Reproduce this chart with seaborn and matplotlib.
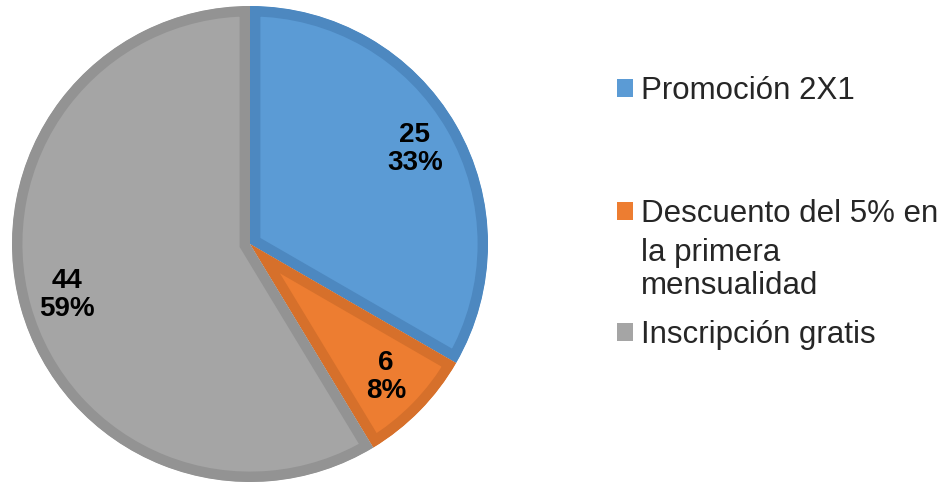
import matplotlib
matplotlib.use("Agg")
import matplotlib.pyplot as plt
import seaborn as sns
from matplotlib.patches import Patch

categories = ["Promoción 2X1", "Descuento del 5% en la primera mensualidad", "Inscripción gratis"]
legend_first = ["Promoción 2X1", "Descuento del 5% en", "Inscripción gratis"]
legend_extra = ["", "la primera\nmensualidad", ""]
values = [25, 6, 44]
fill_colors = ["#5B9BD5", "#ED7D31", "#A5A5A5"]
edge_colors = ["#4D88C0", "#D6702B", "#939393"]

sns.set_theme(style="white")
plt.rcParams["font.family"] = ["Liberation Sans", "DejaVu Sans"]

W, H = 949, 483
fig = plt.figure(figsize=(W / 100, H / 100), dpi=100)
fig.patch.set_facecolor("white")

cx, cy, r = 250, 244, 238
ax = fig.add_axes([(cx - r) / W, (H - cy - r) / H, 2 * r / W, 2 * r / H])
total = sum(values)

def fmt(p):
    v = int(round(p * total / 100.0))
    return f"{v}\n{p:.0f}%"

wedges, texts, autotexts = ax.pie(
    values, colors=fill_colors, startangle=90, counterclock=False,
    autopct=fmt, pctdistance=0.8, radius=1.0,
    textprops=dict(fontsize=20, fontweight="bold", color="black", linespacing=1.1),
)
for w, ec in zip(wedges, edge_colors):
    w.set_edgecolor(ec)
    w.set_linewidth(15)
    w.set_clip_on(True)
    w.set_clip_path(w)
ax.set_xlim(-1, 1)
ax.set_ylim(-1, 1)
ax.set_aspect("equal")
ax.axis("off")

# legend entries
fs = 22.5
ys = [91, 214, 335]
for i in range(3):
    leg = fig.legend(
        handles=[Patch(facecolor=fill_colors[i], edgecolor="none")],
        labels=[legend_first[i]],
        loc="center left", bbox_to_anchor=(617 / W, 1 - ys[i] / H),
        frameon=False, fontsize=fs, borderpad=0, borderaxespad=0,
        handlelength=0.52, handleheight=0.52, handletextpad=0.26,
    )
    if legend_extra[i]:
        fig.text(641 / W, 1 - (ys[i] + 24) / H, legend_extra[i], fontsize=fs,
                 va="top", ha="left", linespacing=1.12)

fig.savefig("out.png", dpi=100, facecolor="white")
